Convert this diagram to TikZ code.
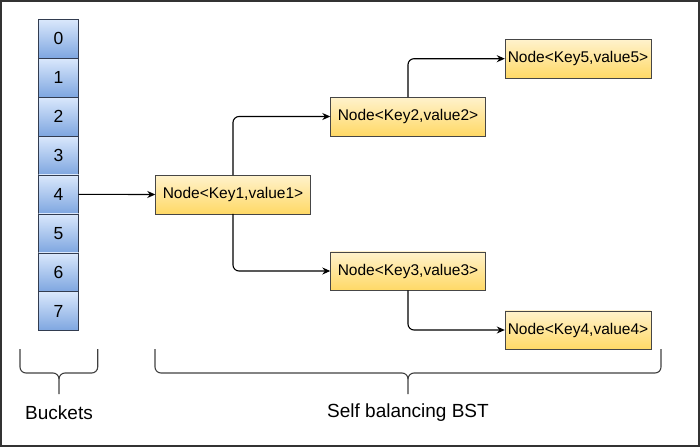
\documentclass[tikz,border=0pt]{standalone}
\usepackage{fontspec}
\setmainfont{Liberation Sans}
\usetikzlibrary{arrows.meta,positioning,calc}
\definecolor{bktop}{RGB}{218,232,252}
\definecolor{bkbot}{RGB}{126,166,224}
\definecolor{bkline}{RGB}{50,60,80}
\definecolor{ndtop}{RGB}{255,242,204}
\definecolor{ndbot}{RGB}{255,217,102}
\definecolor{ndline}{RGB}{70,70,70}

\tikzset{
  bucket/.style={draw=bkline, top color=bktop, bottom color=bkbot,
                 minimum width=40pt, minimum height=38.9pt, inner sep=0pt,
                 font=\fontsize{17.5}{20}\selectfont},
  treenode/.style={draw=ndline, top color=ndtop, bottom color=ndbot,
                   minimum width=155pt, minimum height=38.5pt, inner sep=0pt,
                   font=\fontsize{15.5}{18}\selectfont},
  link/.style={-{Stealth[length=8pt,width=7pt]}, line width=1.1pt, rounded corners=6pt},
  curly/.style={line width=1.1pt, draw=black!75},
  caption/.style={font=\fontsize{19}{22}\selectfont}
}

\begin{document}
\begin{tikzpicture}[x=1pt, y=-1pt]
  \useasboundingbox (0,0) rectangle (700,447);
  \draw[black!80, line width=1.2pt] (1,1) rectangle (699,446);
  % Buckets
  \foreach \i in {0,...,7}{
    \node[bucket] (b\i) at (58.5, {38.75+38.9*\i}) {\i};
  }
  % Tree nodes
  \node[treenode] (key1) at (233,194.5) {Node<Key1,value1>};
  \node[treenode] (key2) at (408,116.5) {Node<Key2,value2>};
  \node[treenode] (key3) at (408,271)   {Node<Key3,value3>};
  \node[treenode, minimum width=146pt] (key5) at (578,58.7) {Node<Key5,value5>};
  \node[treenode, minimum width=146pt] (key4) at (578,330)  {Node<Key4,value4>};
  % Links
  \draw[link] (b4.east) -- (key1.west);
  \draw[link] (key1.north) |- (key2.west);
  \draw[link] (key1.south) |- (key3.west);
  \draw[link] (key2.north) |- (key5.west);
  \draw[link] (key3.south) |- (key4.west);
  % Braces
  \draw[curly] (20,349) -- (20,367) to[out=-90,in=180] (26,373) -- (53,373)
    to[out=0,in=90] (59,379) -- (59,394);
  \draw[curly] (97.7,349) -- (97.7,367) to[out=-90,in=0] (91.7,373) -- (65,373)
    to[out=180,in=90] (59,379);
  \draw[curly] (155,349) -- (155,367) to[out=-90,in=180] (161,373) -- (402,373)
    to[out=0,in=90] (408,379) -- (408,394);
  \draw[curly] (661,349) -- (661,367) to[out=-90,in=0] (655,373) -- (414,373)
    to[out=180,in=90] (408,379);
  \node[caption] (bklabel)  at (59,412.5)  {Buckets};
  \node[caption] (bstlabel) at (408,412.5) {Self balancing BST};
\end{tikzpicture}
\end{document}
